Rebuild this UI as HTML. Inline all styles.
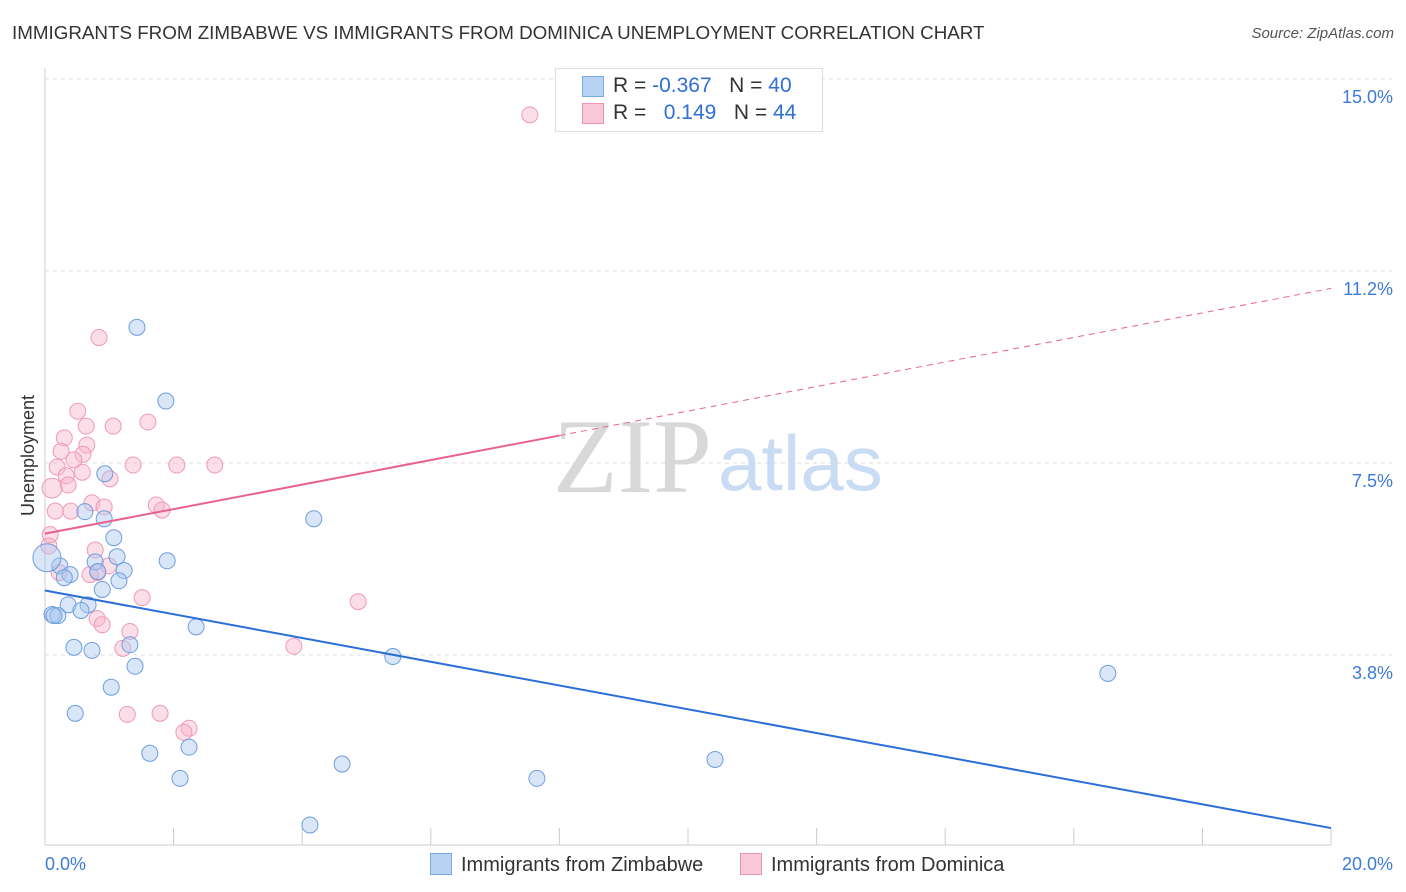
<!DOCTYPE html>
<html><head><meta charset="utf-8"><style>
body{margin:0;background:#fff;font-family:"Liberation Sans",sans-serif;}
#wrap{position:relative;width:1406px;height:892px;overflow:hidden;}
.t{position:absolute;white-space:nowrap;}
</style></head><body>
<div id="wrap">
<div class="t" style="left:12px;top:22px;font-size:18.8px;color:#333;">IMMIGRANTS FROM ZIMBABWE VS IMMIGRANTS FROM DOMINICA UNEMPLOYMENT CORRELATION CHART</div>
<div class="t" style="right:12px;top:25px;font-size:15px;color:#555;font-style:italic;">Source: ZipAtlas.com</div>
<div class="t" style="left:-32px;top:445px;font-size:18px;color:#333;transform:rotate(-90deg);">Unemployment</div>
<svg id="svg" width="1406" height="892" style="position:absolute;left:0;top:0"></svg>
<div style="position:absolute;left:555px;top:68px;width:266px;height:62px;border:1px solid #ddd;background:#fff;font-size:21px;color:#333;">
 <div style="position:absolute;left:26px;top:7px;width:20px;height:19px;background:#b8d2f4;border:1px solid #7aa8e6;"></div>
 <div class="t" style="left:57px;top:5px;">R = <span style="color:#2f6fd6">-0.367</span>&nbsp;&nbsp;&nbsp;N = <span style="color:#2f6fd6">40</span></div>
 <div style="position:absolute;left:26px;top:34px;width:20px;height:19px;background:#f9c8d7;border:1px solid #ef94b0;"></div>
 <div class="t" style="left:57px;top:32px;">R = &nbsp;&nbsp;<span style="color:#2f6fd6">0.149</span>&nbsp;&nbsp;&nbsp;N = <span style="color:#2f6fd6">44</span></div>
</div>
<div style="position:absolute;left:430px;top:853px;font-size:20px;color:#333;"><span style="display:inline-block;width:20px;height:20px;background:#b8d2f4;border:1px solid #7aa8e6;vertical-align:-4px;margin-right:9px"></span>Immigrants from Zimbabwe</div>
<div style="position:absolute;left:740px;top:853px;font-size:20px;color:#333;"><span style="display:inline-block;width:20px;height:20px;background:#f9c8d7;border:1px solid #ef94b0;vertical-align:-4px;margin-right:9px"></span>Immigrants from Dominica</div>
</div>
<script>
const yTicks=[15.0,11.25,7.5,3.75];
const yTickLabels=["15.0%","11.2%","7.5%","3.8%"];
const xTickLabels=["0.0%","20.0%"];
const zimX=[1.43,1.88,0.93,4.18,0.62,0.92,1.07,1.12,1.90,0.78,0.23,1.23,0.39,0.82,0.30,1.15,0.89,0.36,0.67,0.56,0.11,0.20,2.35,1.32,0.45,0.73,5.41,1.40,16.53,1.03,0.47,2.24,1.63,10.42,4.62,2.10,7.65,4.12,0.03,0.14];
const zimY=[10.15,8.71,7.29,6.41,6.55,6.41,6.04,5.67,5.59,5.57,5.49,5.40,5.32,5.38,5.26,5.20,5.03,4.73,4.73,4.62,4.54,4.52,4.30,3.95,3.90,3.84,3.72,3.53,3.39,3.12,2.61,1.95,1.83,1.71,1.62,1.34,1.34,0.43,5.65,4.52];
const domX=[7.54,0.84,0.51,1.60,1.06,0.64,0.30,0.65,0.25,0.59,0.45,0.19,1.37,2.05,2.64,0.58,0.33,1.01,0.36,0.11,0.73,0.92,1.73,1.82,0.16,0.40,0.08,0.06,0.78,0.99,0.82,0.70,1.51,4.87,0.81,0.89,1.32,3.87,1.21,1.28,1.79,2.24,2.16,0.22];
const domY=[14.30,9.95,8.51,8.30,8.22,8.22,7.99,7.85,7.73,7.67,7.56,7.42,7.46,7.46,7.46,7.32,7.25,7.19,7.07,7.01,6.72,6.64,6.68,6.58,6.56,6.56,6.10,5.88,5.80,5.49,5.36,5.32,4.87,4.79,4.46,4.34,4.21,3.92,3.88,2.59,2.61,2.32,2.24,5.36];
const zimTrend=[5.01,0.37];
const domTrend=[6.12,10.91];
const X=v=>45+v/20*1286, Y=v=>847-v*51.2;
const svg=document.getElementById('svg');
const NS='http://www.w3.org/2000/svg';
function mk(t,a,p){const e=document.createElementNS(NS,t);for(const k in a)e.setAttribute(k,a[k]);(p||svg).appendChild(e);return e;}
yTicks.forEach((t,i)=>{
 const g=mk('line',{x1:45,x2:1392,y1:Y(t),y2:Y(t),stroke:'#ddd','stroke-dasharray':'4,4'});
 
 
 const tx=mk('text',{x:1393,y:Y(t)+24,'text-anchor':'end','font-size':18,fill:'#3d7bd8','font-family':'Liberation Sans'});
 tx.textContent=yTickLabels[i];
 
 
});
const ax=mk('line',{x1:45,x2:1331,y1:845,y2:845,stroke:'#ccc'});


const ay=mk('line',{x1:45,x2:45,y1:68,y2:845,stroke:'#ccc'});


for(let i=1;i<=10;i++){const t=mk('line',{x1:45+i*128.6,x2:45+i*128.6,y1:828,y2:845,stroke:'#ccc'});
 
 }
[[0,45,'start'],[20,1393,'end']].forEach((a,i)=>{const t=mk('text',{x:a[1],y:870,'text-anchor':a[2],'font-size':18,fill:'#3d7bd8','font-family':'Liberation Sans'});t.textContent=xTickLabels[i];
 
 });
const w1=mk('text',{x:553,y:492,'font-size':106,fill:'#d8d8d8','font-family':'Liberation Serif'});w1.textContent='ZIP';


const w2=mk('text',{x:718,y:490,'font-size':78,fill:'#c9dcf3','font-family':'Liberation Sans'});w2.textContent='atlas';


domX.forEach((x,i)=>{const big=(i==19);const c=mk('circle',{cx:X(x),cy:Y(domY[i]),r:big?10:8,fill:'rgba(247,182,203,0.45)',stroke:'#ef9ab5','stroke-width':1});
 
 });
zimX.forEach((x,i)=>{const big=(i==38);const c=mk('circle',{cx:X(x),cy:Y(zimY[i]),r:big?14:8,fill:'rgba(170,200,240,0.45)',stroke:'#6d9ee0','stroke-width':1});
 
 });
const bt=mk('line',{x1:X(0),y1:Y(zimTrend[0]),x2:X(20),y2:Y(zimTrend[1]),stroke:'#2a6fd8','stroke-width':2});


const xs=8.0, ys=domTrend[0]+(domTrend[1]-domTrend[0])*xs/20;
const pt=mk('line',{x1:X(0),y1:Y(domTrend[0]),x2:X(xs),y2:Y(ys),stroke:'#e8638c','stroke-width':2});


const pd=mk('line',{x1:X(xs),y1:Y(ys),x2:X(20),y2:Y(domTrend[1]),stroke:'#e8638c','stroke-width':1,'stroke-dasharray':'6,5'});


</script>
</body></html>
